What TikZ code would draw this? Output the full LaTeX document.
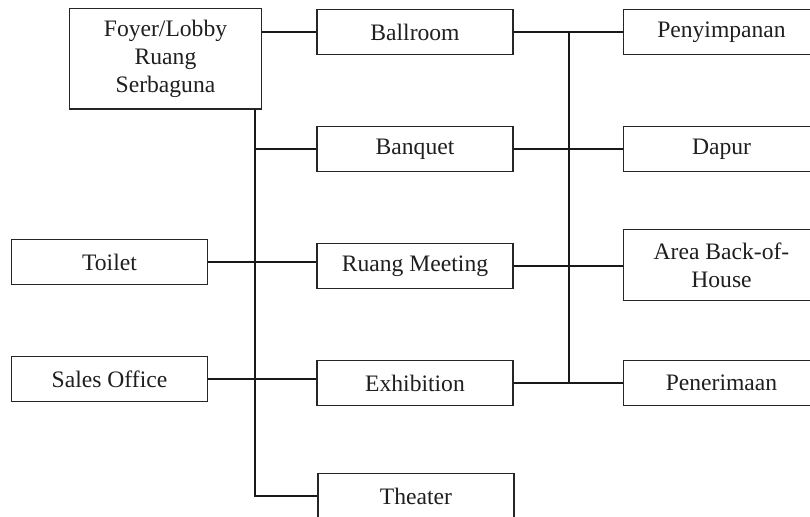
\documentclass[tikz,border=0pt]{standalone}
\usepackage{fontspec}
\setmainfont{Liberation Serif}
\begin{document}
\begin{tikzpicture}[x=1pt,y=-1pt,
  room/.style={draw=black!85, line width=1.4pt, fill=white, inner sep=0pt,
    minimum width=196pt, minimum height=44.5pt, align=center,
    text=black!88, font=\fontsize{23.6pt}{27.8pt}\selectfont},
  link/.style={draw=black!90, line width=2pt}]
  \useasboundingbox (0,0) rectangle (810,516);
  \clip (0,0) rectangle (810,516);

  % left column
  \node[room, minimum width=192pt, minimum height=100.5pt] (foyer) at (165.5,58.75) {Foyer/Lobby\\Ruang\\Serbaguna};
  \node[room] (toilet) at (109.5,262) {Toilet};
  \node[room] (sales) at (109.5,379) {Sales Office};

  % middle column
  \node[room] (ballroom) at (415,32) {Ballroom};
  \node[room] (banquet) at (415,149) {Banquet};
  \node[room] (meeting) at (415,266) {Ruang Meeting};
  \node[room] (exhibition) at (415,383) {Exhibition};
  \node[room] (theater) at (416,496) {Theater};

  % right column
  \node[room] (storage) at (721.5,32) {Penyimpanan};
  \node[room] (kitchen) at (721.5,149) {Dapur};
  \node[room, minimum height=71pt] (boh) at (721.5,265) {Area Back-of-\\House};
  \node[room] (receiving) at (721.5,383) {Penerimaan};

  % trunk lines
  \coordinate (lt) at (255,109);
  \coordinate (rt) at (569,32);

  \draw[link] (ballroom.west) -- (ballroom.west -| foyer.east);
  \draw[link] (lt) |- (theater.west);
  \draw[link] (banquet.west) -- (banquet.west -| lt);
  \draw[link] (toilet.east) -- (toilet.east -| meeting.west);
  \draw[link] (sales.east) -- (sales.east -| exhibition.west);

  \draw[link] (ballroom.east) -- (storage.west);
  \draw[link] (banquet.east) -- (kitchen.west);
  \draw[link] (meeting.east) -- (meeting.east -| boh.west);
  \draw[link] (exhibition.east) -- (receiving.west);
  \draw[link] (rt) -- (rt |- exhibition.east);
\end{tikzpicture}
\end{document}
